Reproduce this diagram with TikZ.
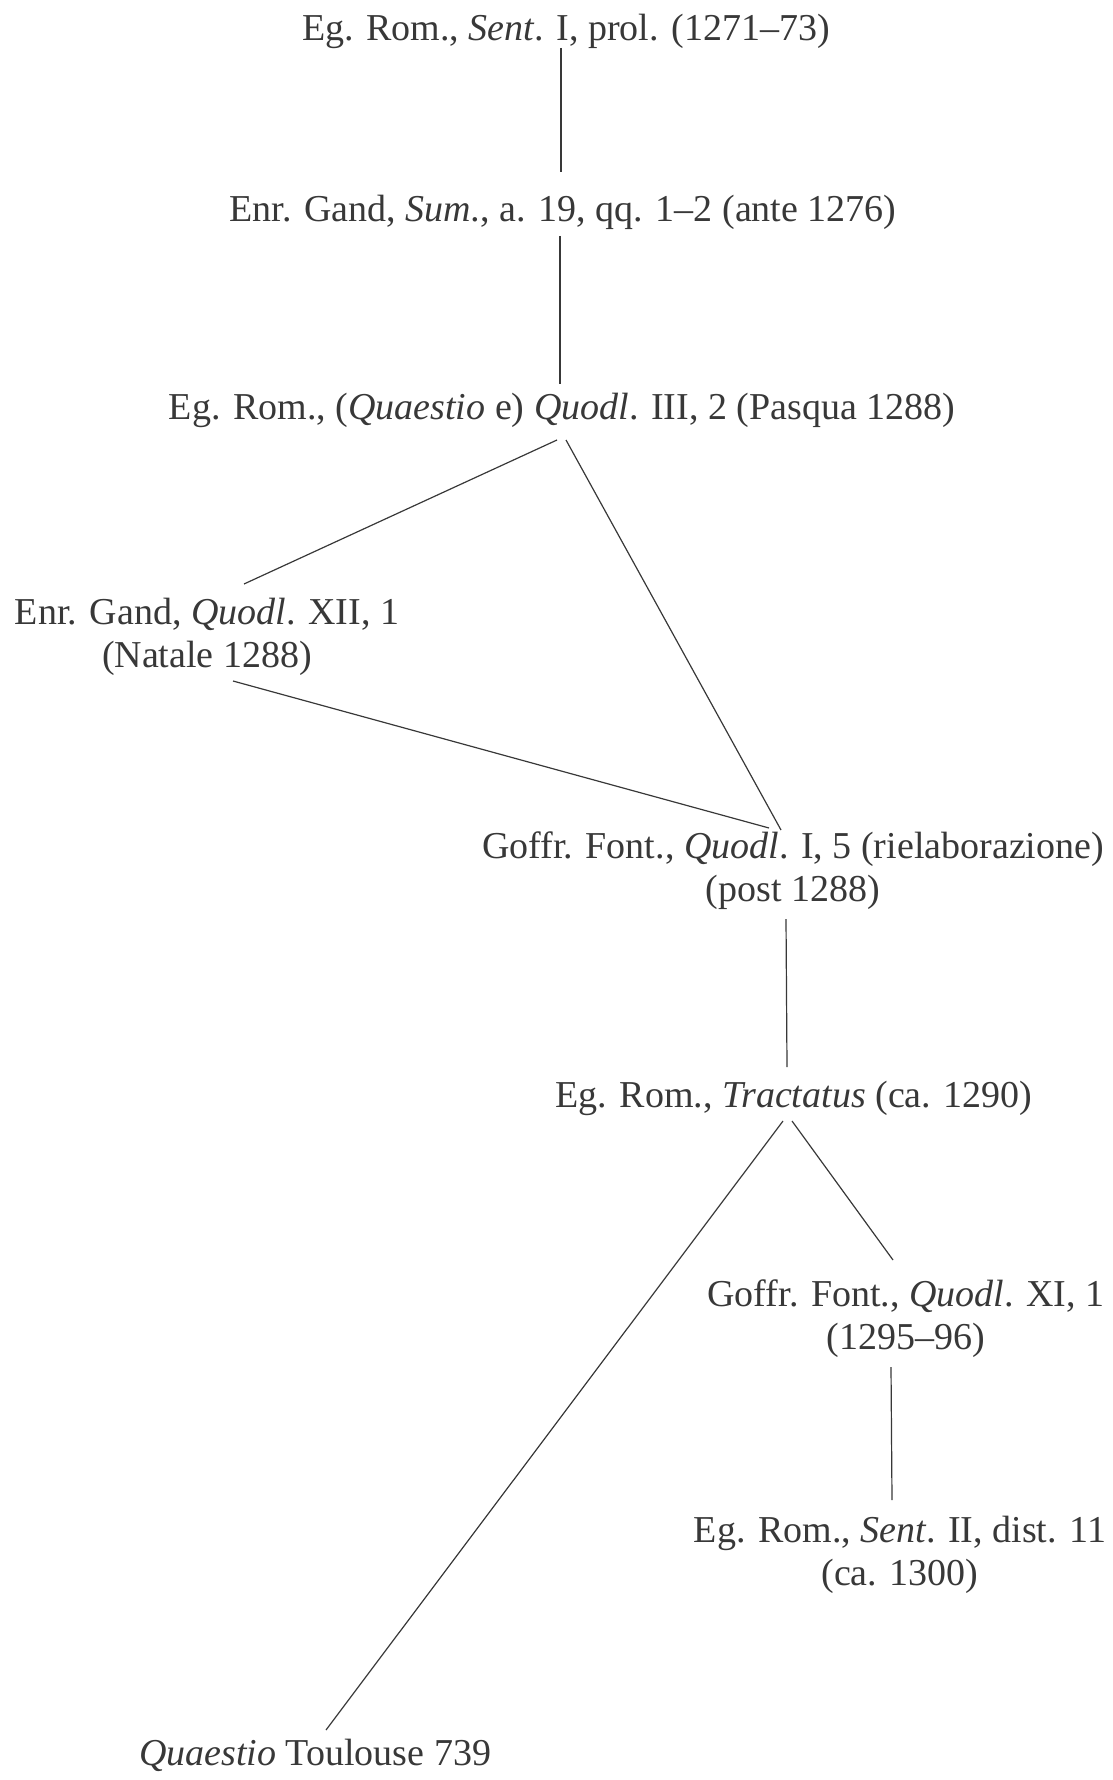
\documentclass[tikz,border=0pt]{standalone}
\usepackage{fontspec}
\setmainfont{Liberation Serif}
\usetikzlibrary{calc}
\definecolor{ink}{gray}{0.22}
\tikzset{
  entry/.style={inner sep=0pt, align=center, text=ink, font=\fontsize{19}{21.5}\selectfont},
  link/.style={draw=ink, line width=0.6pt}
}
\begin{document}
\begin{tikzpicture}[x=1pt,y=1pt]
\useasboundingbox (0,0) rectangle (556,-890);
\node[entry] (n1) at (283,-15.5) {Eg. Rom., \textit{Sent}. I, prol. (1271–73)};
\node[entry] (n2) at (281.5,-106) {Enr. Gand, \textit{Sum.}, a. 19, qq. 1–2 (ante 1276)};
\node[entry] (n3) at (281,-205) {Eg. Rom., (\textit{Quaestio} e) \textit{Quodl}. III, 2 (Pasqua 1288)};
\node[entry] (n4) at (103.5,-318.5) {Enr. Gand, \textit{Quodl}. XII, 1\\(Natale 1288)};
\node[entry] (n5) at (396.5,-435.5) {Goffr. Font., \textit{Quodl}. I, 5 (rielaborazione)\\(post 1288)};
\node[entry] (n6) at (397,-549) {Eg. Rom., \textit{Tractatus} (ca. 1290)};
\node[entry] (n7) at (453,-659.5) {Goffr. Font., \textit{Quodl}. XI, 1\\(1295–96)};
\node[entry] (n8) at (450,-777.5) {Eg. Rom., \textit{Sent}. II, dist. 11\\(ca. 1300)};
\node[entry] (n9) at (157.5,-877.5) {\textit{Quaestio} Toulouse 739};

\draw[link] ($(n1)+(-2.5,-8.5)$) -- ($(n2)+(-1,20)$);
\draw[link] ($(n2)+(-1.5,-12)$) -- ($(n3)+(-1,13)$);
\draw[link] ($(n3)+(-2.5,-15)$) -- ($(n4)+(18.5,26.5)$);
\draw[link] ($(n3)+(2,-15)$) -- ($(n5)+(-6,20.5)$);
\draw[link] ($(n4)+(13,-22)$) -- ($(n5)+(-12,21.5)$);
\draw[link] ($(n5)+(-3.5,-24)$) -- ($(n6)+(-3.5,15.5)$);
\draw[link] ($(n6)+(-5.5,-11.5)$) -- ($(n9)+(5.5,12.5)$);
\draw[link] ($(n6)+(-1,-11.5)$) -- ($(n7)+(-6.5,29.5)$);
\draw[link] ($(n7)+(-7.5,-24)$) -- ($(n8)+(-4,27.5)$);
\end{tikzpicture}
\end{document}
